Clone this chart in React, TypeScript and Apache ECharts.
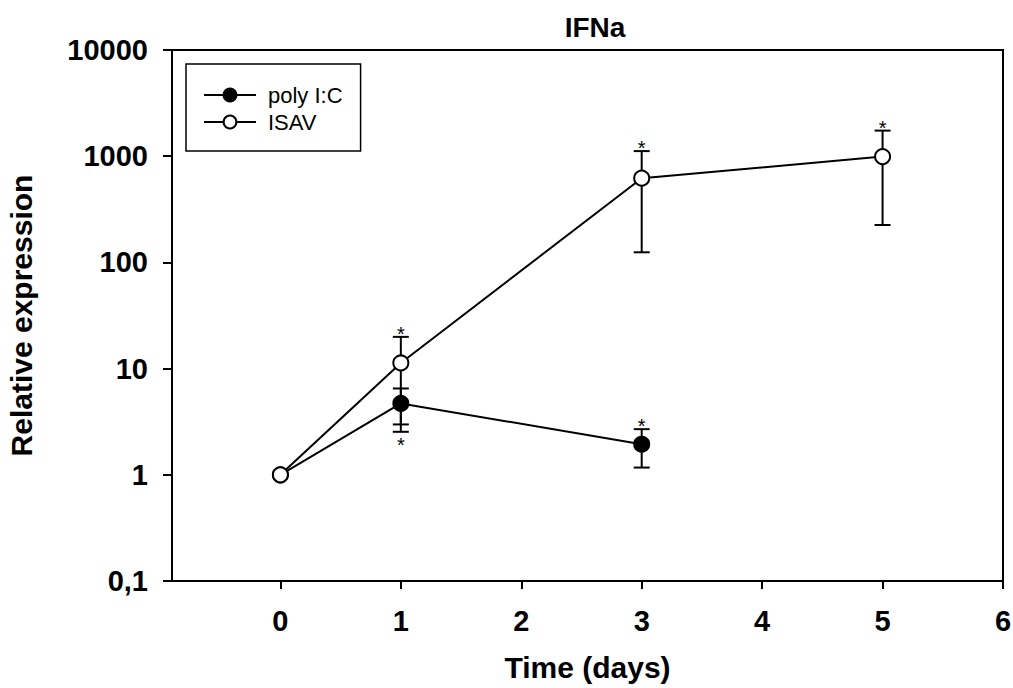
import React, { useEffect, useRef } from "react";
import * as echarts from "echarts";

// Days sampled and the tick labels of both axes
const dayTicks = [0, 1, 2, 3, 4, 5, 6];
const yTicks = [0.1, 1, 10, 100, 1000, 10000];

// poly I:C: mean relative expression with lower / upper error bar ends
const polyDays = [0, 1, 3];
const polyMean = [1, 4.7, 1.94];
const polyLow = [null, 2.54, 1.17];
const polyHigh = [null, 6.5, 2.69];
const polySig = ["", "below", "above"];

// ISAV: mean relative expression with lower / upper error bar ends
const isavDays = [0, 1, 3, 5];
const isavMean = [1, 11.3, 621, 991];
const isavLow = [null, 2.98, 124.5, 225];
const isavHigh = [null, 19.9, 1117, 1742];
const isavSig = ["", "above", "above", "above"];

const FONT = "'Liberation Sans', Arial, Helvetica, sans-serif";

function errorData(days: number[], low: (number | null)[], high: (number | null)[], sig: string[]) {
  const out: any[] = [];
  days.forEach((d, i) => {
    if (low[i] != null && high[i] != null) out.push([d, low[i], high[i], sig[i]]);
  });
  return out;
}

function errorSeries(name: string, data: any[]) {
  return {
    type: "custom",
    name,
    z: 1,
    silent: true,
    data,
    encode: { x: 0, y: [1, 2] },
    renderItem: (params: any, api: any) => {
      const x = api.value(0);
      const lo = api.coord([x, api.value(1)]);
      const hi = api.coord([x, api.value(2)]);
      const sig = data[params.dataIndex][3];
      const cap = 8;
      const style = { stroke: "#000", lineWidth: 2 };
      const children: any[] = [
        { type: "line", shape: { x1: lo[0], y1: lo[1], x2: hi[0], y2: hi[1] }, style },
        { type: "line", shape: { x1: lo[0] - cap, y1: lo[1], x2: lo[0] + cap, y2: lo[1] }, style },
        { type: "line", shape: { x1: hi[0] - cap, y1: hi[1], x2: hi[0] + cap, y2: hi[1] }, style },
      ];
      if (sig === "above" || sig === "below") {
        children.push({
          type: "text",
          style: {
            text: "*",
            x: hi[0],
            y: sig === "above" ? hi[1] - 3 : lo[1] + 13,
            textAlign: "center",
            textVerticalAlign: "middle",
            fontSize: 20,
            fontFamily: FONT,
            fill: "#000",
          },
        });
      }
      return { type: "group", children };
    },
  };
}

export default function App() {
  const ref = useRef<HTMLDivElement>(null);

  useEffect(() => {
    const chart = echarts.init(ref.current!, null, { renderer: "svg" });
    const labelFont = { fontFamily: FONT, fontWeight: "bold" as const, fontSize: 29, color: "#000" };
    const nameFont = { fontFamily: FONT, fontWeight: "bold" as const, fontSize: 30, color: "#000" };

    chart.setOption({
      animation: false,
      backgroundColor: "#fff",
      grid: {
        left: 172,
        right: 10,
        top: 50,
        bottom: 107,
        containLabel: false,
        outerBoundsMode: "none",
        show: true,
        borderColor: "#000",
        borderWidth: 2,
      },
      graphic: [
        {
          type: "text",
          x: 595,
          y: 27,
          style: {
            text: "IFNa",
            textAlign: "center",
            textVerticalAlign: "middle",
            fontFamily: FONT,
            fontWeight: "bold",
            fontSize: 28,
            fill: "#000",
          },
        },
      ],
      legend: {
        orient: "vertical",
        left: 186,
        top: 64,
        padding: [20, 18, 18, 17],
        itemGap: 5,
        itemWidth: 52,
        itemHeight: 16,
        borderColor: "#000",
        borderWidth: 1.5,
        borderRadius: 0,
        textStyle: { fontFamily: FONT, fontSize: 22, color: "#000", padding: [0, 0, 0, 7] },
        data: ["poly I:C", "ISAV"],
      },
      xAxis: {
        type: "value",
        min: -0.9,
        max: 6,
        axisLine: { show: true, onZero: false, lineStyle: { color: "#000", width: 2 } },
        axisTick: { show: true, inside: false, length: 8, customValues: dayTicks, lineStyle: { color: "#000", width: 2 } },
        axisLabel: { ...labelFont, margin: 25, customValues: dayTicks },
        splitLine: { show: false },
        name: "Time (days)",
        nameLocation: "middle",
        nameGap: 71,
        nameMoveOverlap: false,
        nameTextStyle: nameFont,
      },
      yAxis: {
        type: "log",
        logBase: 10,
        min: 0.1,
        max: 10000,
        axisLine: { show: true, onZero: false, lineStyle: { color: "#000", width: 2 } },
        axisTick: { show: true, inside: false, length: 9, lineStyle: { color: "#000", width: 2 } },
        minorTick: { show: false },
        axisLabel: {
          ...labelFont,
          margin: 24,
          formatter: (v: number) => {
            const t = yTicks.find((k) => Math.abs(Math.log10(k) - Math.log10(v)) < 1e-6);
            const val = t ?? v;
            return val < 1 ? String(val).replace(".", ",") : String(Math.round(val));
          },
        },
        splitLine: { show: false },
        name: "Relative expression",
        nameLocation: "middle",
        nameGap: 136,
        nameMoveOverlap: false,
        nameTextStyle: nameFont,
      },
      series: [
        errorSeries("poly I:C err", errorData(polyDays, polyLow, polyHigh, polySig)),
        errorSeries("ISAV err", errorData(isavDays, isavLow, isavHigh, isavSig)),
        {
          type: "line",
          name: "poly I:C",
          z: 3,
          data: polyDays.map((d, i) => [d, polyMean[i]]),
          symbol: "circle",
          symbolSize: 15,
          lineStyle: { color: "#000", width: 2 },
          itemStyle: { color: "#000", borderColor: "#000", borderWidth: 2 },
        },
        {
          type: "line",
          name: "ISAV",
          z: 4,
          data: isavDays.map((d, i) => [d, isavMean[i]]),
          symbol: "circle",
          symbolSize: 15,
          lineStyle: { color: "#000", width: 2 },
          itemStyle: { color: "#fff", borderColor: "#000", borderWidth: 2 },
        },
      ],
    });

    return () => chart.dispose();
  }, []);

  return (
    <div
      ref={ref}
      style={{ position: "fixed", left: 0, top: 0, width: 1013, height: 688 }}
    />
  );
}
